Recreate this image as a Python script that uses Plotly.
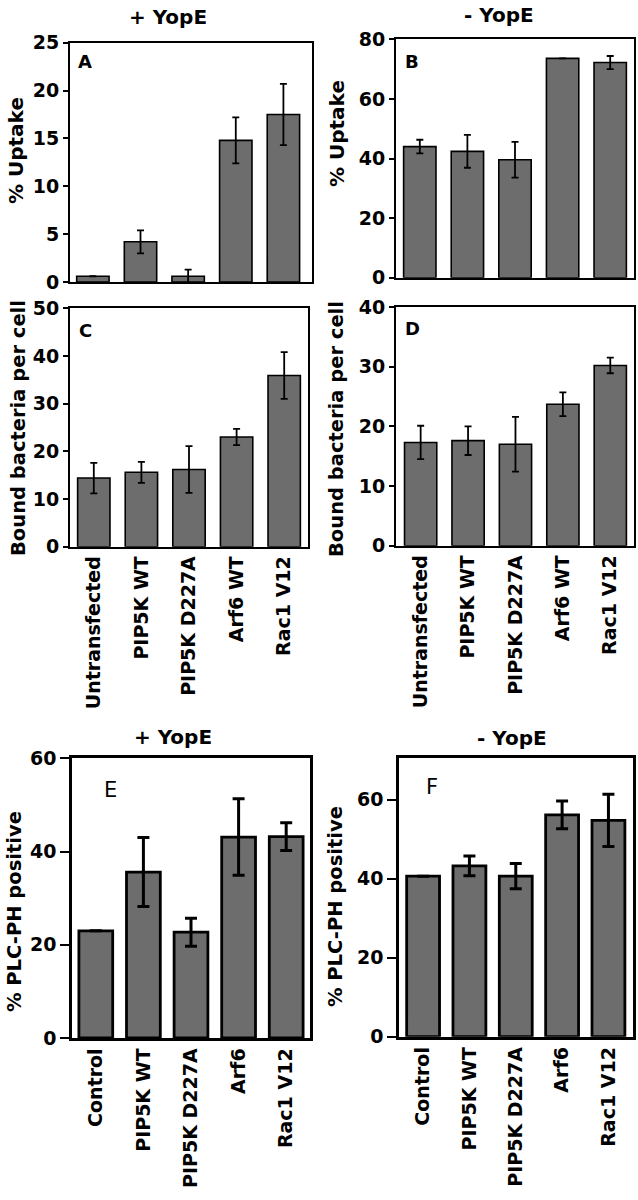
import plotly.graph_objects as go

# categories
cats_cd = ["Untransfected", "PIP5K WT", "PIP5K D227A", "Arf6 WT", "Rac1 V12"]
cats_ef = ["Control", "PIP5K WT", "PIP5K D227A", "Arf6", "Rac1 V12"]

# A: % uptake, + YopE
uptake_plus = [0.6, 4.2, 0.6, 14.8, 17.5]
uptake_plus_err = [0, 1.2, 0.7, 2.4, 3.2]
# B: % uptake, - YopE
uptake_minus = [44.0, 42.4, 39.6, 73.6, 72.2]
uptake_minus_err = [2.3, 5.5, 6.0, 0, 2.2]
# C: bound bacteria, + YopE
bound_plus = [14.4, 15.6, 16.2, 23.0, 35.9]
bound_plus_err = [3.2, 2.2, 4.9, 1.7, 4.9]
# D: bound bacteria, - YopE
bound_minus = [17.3, 17.6, 17.0, 23.7, 30.2]
bound_minus_err = [2.8, 2.4, 4.6, 2.0, 1.3]
# E: % PLC-PH positive, + YopE
plc_plus = [23.0, 35.6, 22.7, 43.1, 43.2]
plc_plus_err = [0, 7.4, 3.0, 8.2, 3.0]
# F: % PLC-PH positive, - YopE
plc_minus = [40.6, 43.2, 40.6, 56.1, 54.7]
plc_minus_err = [0, 2.5, 3.2, 3.5, 6.6]

W, H = 638, 1200
FONT = "DejaVu Sans"
BAR = "#6d6d6d"

fig = go.Figure()


def xd(l, r):
    return [l / W, r / W]


def yd(t, b):
    return [1 - b / H, 1 - t / H]


def panel(n, cats, vals, errs, xdom, ydom, xr, yr, yticks, show_labels, heavy):
    xa = "x" if n == 1 else "x%d" % n
    ya = "y" if n == 1 else "y%d" % n
    lw = 2.8 if heavy else 1.6
    fig.add_trace(go.Bar(
        x=list(range(len(cats))), y=vals, xaxis=xa, yaxis=ya,
        width=0.71 if heavy else 0.68,
        marker=dict(color=BAR, line=dict(color="black", width=lw)),
        error_y=dict(type="data", array=errs, visible=True, color="black",
                     thickness=3 if heavy else 1.8, width=6 if heavy else 3.5),
        showlegend=False,
    ))
    key = "" if n == 1 else str(n)
    fig.layout["xaxis" + key] = dict(
        domain=xdom, anchor=ya, range=xr, automargin=False,
        tickmode="array", tickvals=list(range(len(cats))), ticktext=cats,
        showticklabels=show_labels, tickangle=-90, ticks="",
        tickfont=dict(family=FONT, size=19, color="black", weight="bold"),
        showline=True, linecolor="black", linewidth=2.6 if heavy else 1.8,
        mirror=True, showgrid=False, zeroline=False,
    )
    fig.layout["yaxis" + key] = dict(
        domain=ydom, anchor=xa, range=yr, automargin=False,
        tickmode="array", tickvals=yticks,
        ticks="outside", ticklen=9 if heavy else 5, tickwidth=2 if heavy else 1.6,
        tickcolor="black",
        tickfont=dict(family=FONT, size=19, color="black", weight="bold"),
        showline=True, linecolor="black", linewidth=2.6 if heavy else 1.8,
        mirror=True, showgrid=False, zeroline=False,
    )


panel(1, cats_cd, uptake_plus, uptake_plus_err, xd(70, 312), yd(42.7, 282),
      [-0.48, 4.6], [0, 25], [0, 5, 10, 15, 20, 25], False, False)
panel(2, cats_cd, uptake_minus, uptake_minus_err, xd(396, 634), yd(39.3, 277.7),
      [-0.5, 4.5], [0, 80], [0, 20, 40, 60, 80], False, False)
panel(3, cats_cd, bound_plus, bound_plus_err, xd(70, 308), yd(308.3, 546.7),
      [-0.5, 4.5], [0, 50], [0, 10, 20, 30, 40, 50], True, False)
panel(4, cats_cd, bound_minus, bound_minus_err, xd(396, 634), yd(307, 545.7),
      [-0.52, 4.5], [0, 40], [0, 10, 20, 30, 40], True, False)
panel(5, cats_ef, plc_plus, plc_plus_err, xd(72, 310), yd(758.3, 1038),
      [-0.5, 4.5], [0, 60], [0, 20, 40, 60], True, True)
panel(6, cats_ef, plc_minus, plc_minus_err, xd(399, 633), yd(758, 1036.7),
      [-0.52, 4.53], [0, 70.5], [0, 20, 40, 60], True, True)


def note(text, x, y, size, bold=True, angle=0):
    fig.add_annotation(
        text=text, x=x / W, y=1 - y / H, xref="paper", yref="paper",
        showarrow=False, textangle=angle, xanchor="center", yanchor="middle",
        font=dict(family=FONT, size=size, color="black",
                  weight="bold" if bold else "normal"),
    )


# titles
note("+ YopE", 168, 17, 20)
note("- YopE", 499, 15, 20)
note("+ YopE", 173, 737, 20)
note("- YopE", 512, 738, 20)

# y axis titles
note("% Uptake", 16, 151, 20, angle=-90)
note("% Uptake", 337, 134, 20, angle=-90)
note("Bound bacteria per cell", 18, 428, 19.5, angle=-90)
note("Bound bacteria per cell", 337, 429, 19.5, angle=-90)
note("% PLC-PH positive", 14, 912, 19.5, angle=-90)
note("% PLC-PH positive", 335, 907, 19.5, angle=-90)

# panel letters
note("A", 85, 62, 18)
note("B", 412, 62, 18)
note("C", 85, 330, 18)
note("D", 412, 328, 18)
note("E", 110, 790, 21, bold=False)
note("F", 432, 787, 21, bold=False)

fig.update_layout(
    width=W, height=H,
    margin=dict(l=0, r=0, t=0, b=0, autoexpand=False),
    paper_bgcolor="white", plot_bgcolor="white",
    bargap=0.3,
)

fig.write_html("out.html", config={"displayModeBar": False},
               post_script="document.body.style.margin='0';")
